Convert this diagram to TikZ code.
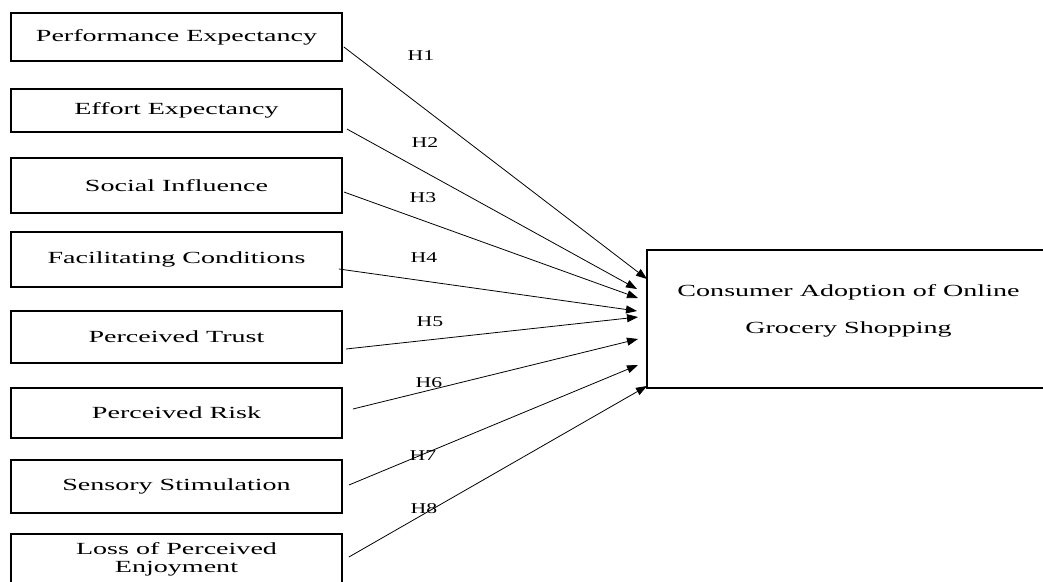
\documentclass[tikz,border=0pt]{standalone}
\usepackage{fontspec}
\setmainfont{Liberation Serif}[FakeStretch=1.65]
\newfontfamily\hypfont{Liberation Serif}[FakeStretch=1.45]
\usetikzlibrary{arrows.meta}
\begin{document}
\begin{tikzpicture}[x=1pt,y=-1pt,
  factor/.style={draw, line width=1.8pt, minimum width=331pt, inner sep=0pt,
    align=center, font=\fontsize{17}{18}\selectfont},
  outcome/.style={draw, line width=1.8pt, minimum width=403pt, minimum height=138pt, inner sep=0pt},
  link/.style={line width=0.8pt, -{Triangle[length=11pt,width=8pt]}},
  hyp/.style={inner sep=0pt, font=\hypfont\fontsize{15}{15}\selectfont}]
\useasboundingbox (0,0) rectangle (1043,581);

% predictor constructs
\node[factor, minimum height=48pt] (pe)  at (176.5,37)    {Performance Expectancy};
\node[factor, minimum height=43pt] (ee)  at (176.5,110.5) {Effort Expectancy};
\node[factor, minimum height=55pt] (si)  at (176.5,185.5) {Social Influence};
\node[factor, minimum height=55pt] (fc)  at (176.5,259.5) {Facilitating Conditions};
\node[factor, minimum height=52pt] (pt)  at (176.5,337)   {Perceived Trust};
\node[factor, minimum height=50pt] (pr)  at (176.5,413)   {Perceived Risk};
\node[factor, minimum height=53pt] (ss)  at (176.5,486.5) {Sensory Stimulation};
\node[factor, minimum height=50pt] (lpe) at (176.5,559)   {Loss of Perceived\\Enjoyment};

% dependent construct
\node[outcome] (ca) at (848.5,319) {};
\node[align=center, inner sep=0pt, font=\fontsize{17}{37}\selectfont] (catext) at (848.5,310.5)
  {Consumer Adoption of Online\\Grocery Shopping};

% arrow tips at the dependent construct
\coordinate (t1) at (647,279);
\coordinate (t2) at (637,289);
\coordinate (t3) at (638,298);
\coordinate (t4) at (637,311);
\coordinate (t5) at (638,317);
\coordinate (t6) at (638,339);
\coordinate (t7) at (638,365);
\coordinate (t8) at (647,386);

% hypothesised paths
\draw[link] ([xshift=1pt,yshift=-10pt]pe.east)    -- (t1);
\draw[link] ([xshift=4pt,yshift=-18.5pt]ee.east)  -- (t2);
\draw[link] ([xshift=1pt,yshift=-6.5pt]si.east)   -- (t3);
\draw[link] ([xshift=-4pt,yshift=-9.5pt]fc.east)  -- (t4);
\draw[link] ([xshift=3pt,yshift=-12pt]pt.east)    -- (t5);
\draw[link] ([xshift=10pt,yshift=4pt]pr.east)     -- (t6);
\draw[link] ([xshift=6pt,yshift=1.5pt]ss.east)    -- (t7);
\draw[link] ([xshift=6pt,yshift=2pt]lpe.east)     -- (t8);

% hypothesis labels
\node[hyp] (h1) at (421,56)  {H1};
\node[hyp] (h2) at (425,143) {H2};
\node[hyp] (h3) at (423,198) {H3};
\node[hyp] (h4) at (424,258) {H4};
\node[hyp] (h5) at (430,322) {H5};
\node[hyp] (h6) at (429,383) {H6};
\node[hyp] (h7) at (423,456) {H7};
\node[hyp] (h8) at (424,509) {H8};
\end{tikzpicture}
\end{document}
